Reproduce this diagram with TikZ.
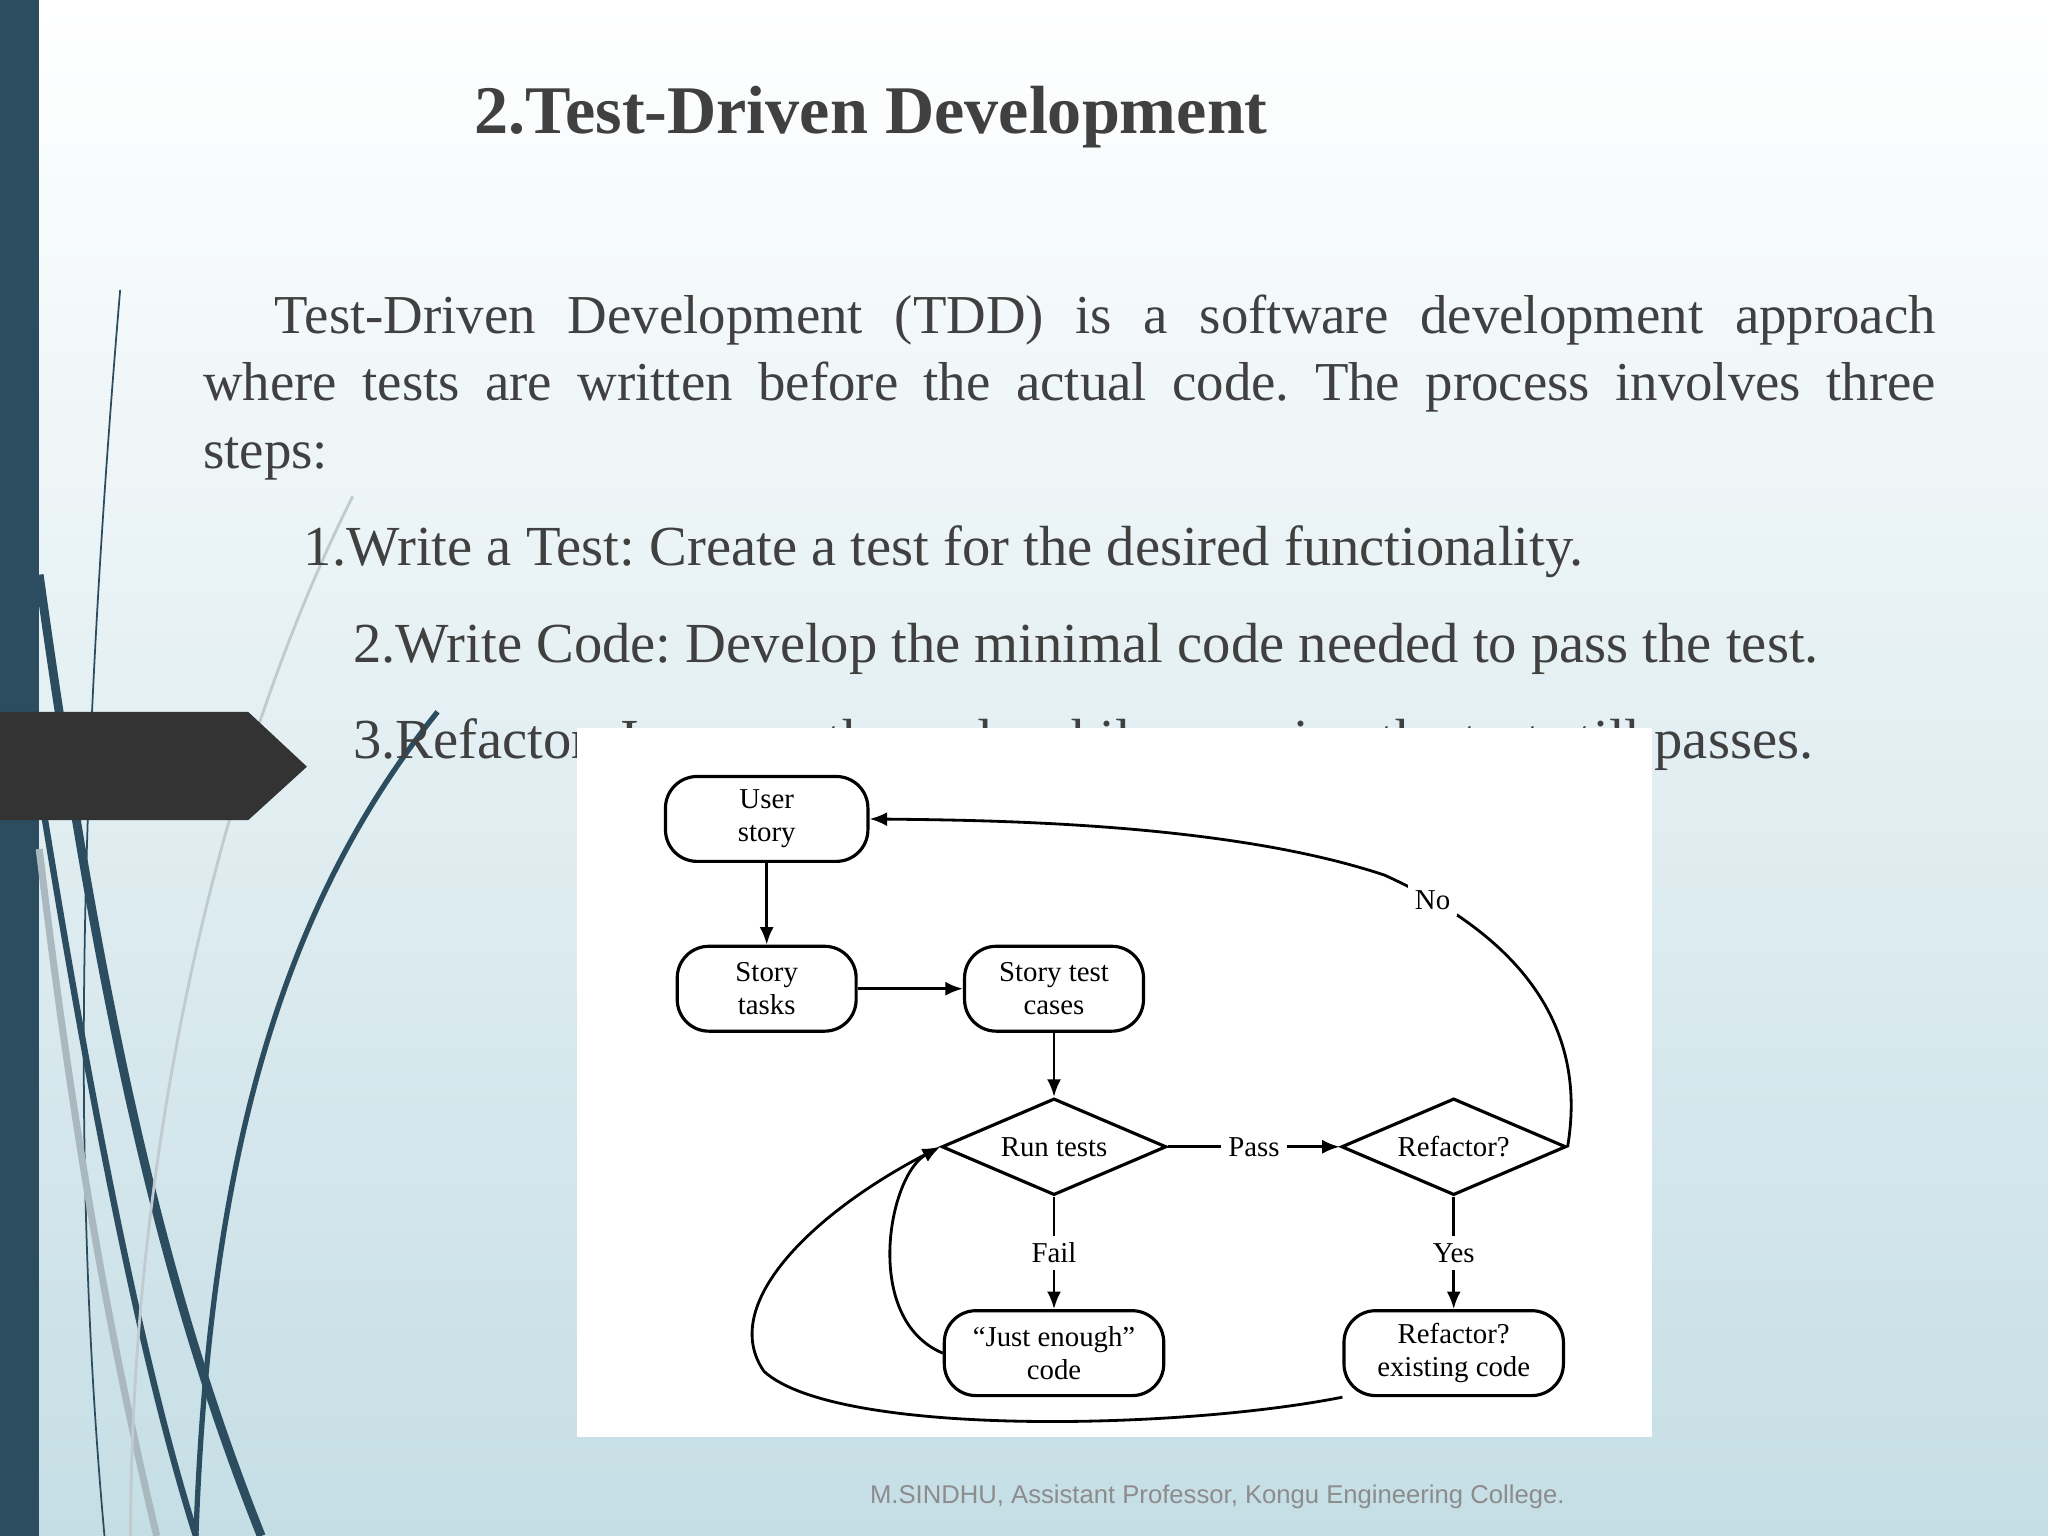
\documentclass[tikz,border=0pt]{standalone}
\usepackage{fontspec}
\setmainfont{Liberation Serif}
\newfontfamily\footfont{Liberation Sans}
\usetikzlibrary{shapes.geometric,arrows.meta}
\frenchspacing
\definecolor{txt}{HTML}{404040}
\definecolor{bar}{HTML}{2B4D5F}
\definecolor{bgb}{HTML}{C5DEE5}
\tikzset{
 box/.style={draw,rounded corners=9pt,line width=0.9pt,align=center,font=\fontsize{8.2}{9.5}\selectfont,inner sep=0pt},
 dia/.style={draw,diamond,aspect=2.3,line width=0.9pt,font=\fontsize{8.2}{9.5}\selectfont,inner sep=0pt},
 arr/.style={-{Latex[length=5pt,width=4pt]},line width=0.8pt},
 lbl/.style={font=\fontsize{8.2}{9.5}\selectfont,fill=white,inner sep=2pt},
 body/.style={anchor=base west,inner sep=0pt,text=txt,font=\fontsize{15.6}{19.6}\selectfont},
 item/.style={anchor=base west,inner sep=0pt,text=txt,font=\fontsize{16.1}{19.6}\selectfont}
}
\begin{document}
\begin{tikzpicture}[x=0.013061cm,y=-0.013061cm]
\useasboundingbox (0,0) rectangle (1568,1176);
\shade[top color=white,bottom color=bgb] (0,0) rectangle (1568,1176);
\fill[bar] (0,0) rectangle (30,1176);
\draw[bar,line width=0.5pt] (92,222) .. controls (60,600) and (55,900) .. (80,1176);
\draw[bar,line width=2.5pt] (30,440) .. controls (80,800) and (130,1000) .. (200,1176);
\draw[bar,line width=1.8pt] (30,600) .. controls (70,850) and (110,1050) .. (150,1176);
\draw[bar!40,line width=2pt] (30,650) .. controls (60,900) and (90,1050) .. (120,1176);
\draw[bar,line width=1.5pt] (335,545) .. controls (210,700) and (160,900) .. (150,1176);
\draw[bar!30,line width=0.8pt] (270,380) .. controls (160,600) and (100,900) .. (100,1176);
\fill[black!80] (0,545) -- (190,545) -- (235,587) -- (190,628) -- (0,628) -- cycle;
\node[anchor=base west,inner sep=0pt,text=txt,font=\fontsize{19.4}{22}\selectfont\bfseries] (title) at (363,102) {2.Test-Driven Development};
\node[body] (l1) at (210,255) {\makebox[16.61cm][s]{Test-Driven Development (TDD) is a software development approach}};
\node[body] (l2) at (155,307) {\makebox[17.33cm][s]{where tests are written before the actual code. The process involves three}};
\node[body] (l3) at (155,359) {steps:};
\node[item] (i1) at (232,433) {1.Write a Test: Create a test for the desired functionality.};
\node[item] (i2) at (270,507) {2.Write Code: Develop the minimal code needed to pass the test.};
\node[item] (i3) at (270,581) {3.Refactor: Improve the code while ensuring the test still passes.};
\fill[white] (442,557) rectangle (1265,1100);
\node[box,minimum width=155*0.013061cm,minimum height=65*0.013061cm] (us) at (587,627) {User\\story};
\node[box,minimum width=137*0.013061cm,minimum height=65*0.013061cm] (st) at (587,757) {Story\\tasks};
\node[box,minimum width=137*0.013061cm,minimum height=65*0.013061cm] (stc) at (807,757) {Story test\\cases};
\node[dia,minimum width=172*0.013061cm,minimum height=74*0.013061cm] (rt) at (807,878) {Run tests};
\node[dia,minimum width=172*0.013061cm,minimum height=74*0.013061cm] (rf) at (1113,878) {Refactor?};
\node[box,minimum width=168*0.013061cm,minimum height=65*0.013061cm] (je) at (807,1036) {``Just enough''\\code};
\node[box,minimum width=168*0.013061cm,minimum height=65*0.013061cm] (ec) at (1113,1036) {Refactor?\\existing code};
\draw[arr] (us) -- (st);
\draw[arr] (st) -- (stc);
\draw[arr] (stc) -- (rt);
\draw[arr] (rt.east) -- node[lbl] (pass) {Pass} (rf.west);
\draw[arr] (rt.south) -- node[lbl] (fail) {Fail} (je.north);
\draw[arr] (rf.south) -- node[lbl] (yes) {Yes} (ec.north);
\draw[arr] (rf.east) .. controls (1215,790) and (1170,720) .. node[lbl,pos=0.88] (no) {No} (1060,670) .. controls (940,630) and (760,628) .. (us.east);
\draw[arr] (je.west) .. controls (660,1010) and (680,900) .. (rt.west);
\draw[arr] (ec.south west) .. controls (900,1095) and (640,1100) .. (585,1050) .. controls (550,1000) and (620,930) .. (rt.west);
\node[text=black!45,font=\footfont\fontsize{7.3}{9}\selectfont] (foot) at (932,1146) {M.SINDHU, Assistant Professor, Kongu Engineering College.};
\end{tikzpicture}
\end{document}
